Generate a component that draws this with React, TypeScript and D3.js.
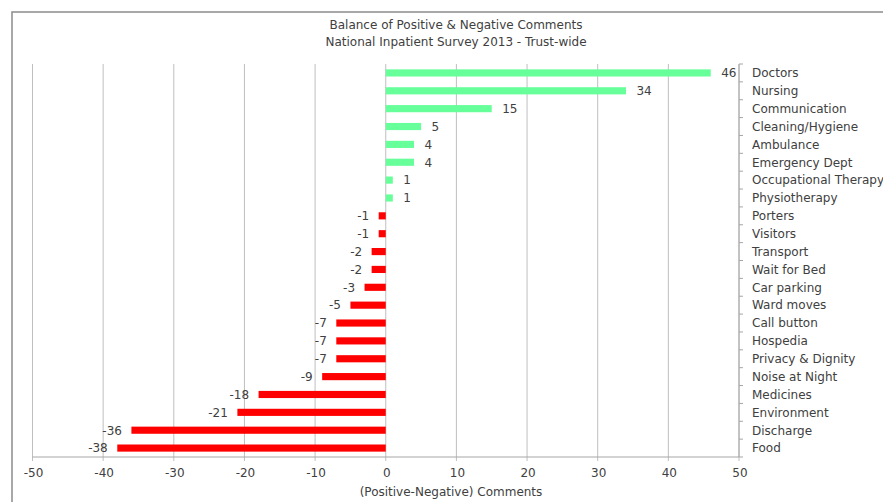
import React from "react";
import * as d3 from "d3";

const categories = [
  "Doctors", "Nursing", "Communication", "Cleaning/Hygiene", "Ambulance",
  "Emergency Dept", "Occupational Therapy", "Physiotherapy", "Porters", "Visitors",
  "Transport", "Wait for Bed", "Car parking", "Ward moves", "Call button",
  "Hospedia", "Privacy & Dignity", "Noise at Night", "Medicines", "Environment",
  "Discharge", "Food",
];
const values = [46, 34, 15, 5, 4, 4, 1, 1, -1, -1, -2, -2, -3, -5, -7, -7, -7, -9, -18, -21, -36, -38];
const xTicks = [-50, -40, -30, -20, -10, 0, 10, 20, 30, 40, 50];
const titleLines = ["Balance of Positive & Negative Comments", "National Inpatient Survey 2013 - Trust-wide"];
const xTitle = "(Positive-Negative) Comments";

const W = 883;
const H = 502;
const FONT = "DejaVu Sans, sans-serif";
const TEXT = "#404040";
const GRID = "#bfbfbf";
const AXIS = "#a6a6a6";

export default function App() {
  const x = d3.scaleLinear().domain([-50, 50]).range([32.5, 739]);
  const y = d3.scaleBand<string>().domain(categories).range([64, 457]).paddingInner(0.6).paddingOuter(0.3);
  const step = y.step();
  const top = 64;
  const bottom = 457;
  const boundaries = d3.range(categories.length + 1).map((i) => top + i * step);

  return (
    <svg width={W} height={H} style={{ position: "absolute", left: 0, top: 0, background: "#fff" }} fontFamily={FONT}>
      <rect x={0} y={0} width={W} height={H} fill="#fff" />
      <rect x={12} y={12} width={W + 20} height={H + 20} fill="none" stroke="#8c8c8c" strokeWidth={1.5} />
      {titleLines.map((t, i) => (
        <text key={t} x={456} y={29 + i * 17} textAnchor="middle" fontSize={12} fill={TEXT}>{t}</text>
      ))}
      {xTicks.map((t) => (
        <line key={"g" + t} x1={x(t)} x2={x(t)} y1={top} y2={bottom + 4} stroke={GRID} strokeWidth={1} />
      ))}
      <line x1={x(-50)} x2={x(50)} y1={bottom} y2={bottom} stroke={AXIS} strokeWidth={1} />
      <line x1={x(50)} x2={x(50)} y1={top} y2={bottom} stroke={AXIS} strokeWidth={1} />
      {boundaries.map((b, i) => (
        <line key={"bt" + i} x1={x(50)} x2={x(50) + 4} y1={b} y2={b} stroke={AXIS} strokeWidth={1} />
      ))}
      {categories.map((c, i) => {
        const v = values[i];
        const y0 = y(c)!;
        const bw = y.bandwidth();
        const x0 = Math.min(x(0), x(v));
        const w = Math.abs(x(v) - x(0));
        const cy = y0 + bw / 2;
        return (
          <g key={c}>
            <rect x={x0} y={y0} width={w} height={bw} fill={v >= 0 ? "#66ff99" : "#ff0000"} />
            <text
              x={v >= 0 ? x(v) + 10.5 : x(v) - 9.5}
              y={cy}
              dy="0.36em"
              textAnchor={v >= 0 ? "start" : "end"}
              fontSize={12}
              fill={TEXT}
            >
              {v}
            </text>
            <text x={752} y={cy} dy="0.36em" fontSize={12} fill={TEXT}>{c}</text>
          </g>
        );
      })}
      {xTicks.map((t) => (
        <text key={"t" + t} x={x(t) + 1} y={473} dy="0.36em" textAnchor="middle" fontSize={12} fill={TEXT}>{t}</text>
      ))}
      <text x={451} y={492} dy="0.36em" textAnchor="middle" fontSize={12} fill={TEXT}>{xTitle}</text>
    </svg>
  );
}
